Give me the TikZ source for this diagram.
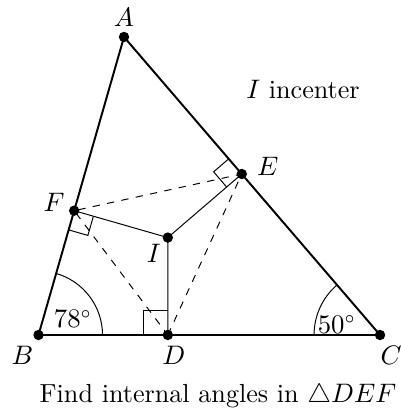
\documentclass[tikz,border=0pt]{standalone}
\usepackage{amsmath}
\usepackage{amssymb}
\usetikzlibrary{calc}

\begin{document}
\begin{tikzpicture}[scale=0.5755, font=\fontsize{10.7pt}{13pt}\selectfont]
    \useasboundingbox (0, 0) rectangle (10.025, 10.3);

    % 顶点与内心
    \coordinate (A) at (3.1, 9.375);
    \coordinate (B) at (0.9625, 1.925);
    \coordinate (C) at (9.5, 1.925);
    \coordinate (I) at (4.195, 4.36);

    % 切点 (垂足)
    \coordinate (D) at ($(B)!(I)!(C)$);
    \coordinate (E) at ($(A)!(I)!(C)$);
    \coordinate (F) at ($(A)!(I)!(B)$);

    % 三角形 ABC
    \draw[thick] (A) -- (B) -- (C) -- cycle;

    % 内心到切点
    \draw (I) -- (D);
    \draw (I) -- (E);
    \draw (I) -- (F);

    % 三角形 DEF (虚线)
    \draw[dashed] (D) -- (E) -- (F) -- cycle;

    % 直角符号
    \draw ($(D)+(-0.6, 0)$) -- ($(D)+(-0.6, 0.6)$) -- ($(D)+(0, 0.6)$);
    \coordinate (Ea) at ($(E)!5mm!(A)$);
    \coordinate (Ei) at ($(E)!5mm!(I)$);
    \draw (Ea) -- ($(Ea)+(Ei)-(E)$) -- (Ei);
    \coordinate (Fb) at ($(F)!5mm!(B)$);
    \coordinate (Fi) at ($(F)!5mm!(I)$);
    \draw (Fb) -- ($(Fb)+(Fi)-(F)$) -- (Fi);

    % 角度弧
    \draw (B) ++(1.6, 0) arc[start angle=0, end angle=74, radius=1.6];
    \draw (C) ++(-1.65, 0) arc[start angle=180, end angle=130.7, radius=1.65];
    \node (angB) at ($(B)+(0.86, 0.4)$) {$78^\circ$};
    \node (angC) at ($(C)+(-1.08, 0.27)$) {$50^\circ$};

    % 点
    \foreach \p in {A, B, C, D, E, F, I}
      \fill (\p) circle[radius=0.13];

    % 标签
    \node (lA) at ($(A)+(0, 0.5)$) {$A$};
    \node (lB) at ($(B)+(-0.4, -0.5)$) {$B$};
    \node (lC) at ($(C)+(0.28, -0.52)$) {$C$};
    \node (lD) at ($(D)+(0.15, -0.5)$) {$D$};
    \node (lE) at ($(E)+(0.65, 0.2)$) {$E$};
    \node (lF) at ($(F)+(-0.5, 0.2)$) {$F$};
    \node (lI) at ($(I)+(-0.35, -0.39)$) {$I$};

    \node (note) at (7.575, 8.05) {$I$ incenter};
    \node (task) at (5.45, 0.4) {Find internal angles in $\triangle DEF$};

\end{tikzpicture}
\end{document}
